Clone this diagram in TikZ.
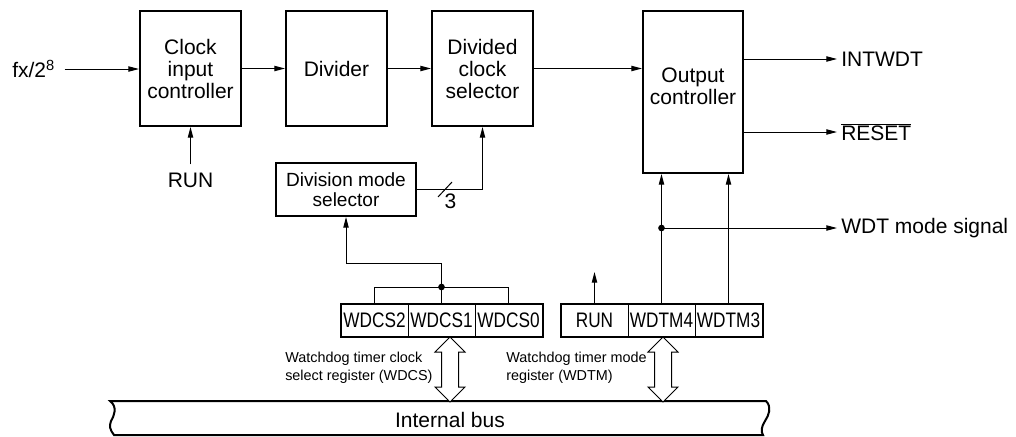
\documentclass[tikz,border=0pt]{standalone}
\usepackage{fontspec}
\setmainfont{Liberation Sans}
\newfontfamily\regfont[FakeStretch=0.82]{Liberation Sans}
\usetikzlibrary{arrows.meta,calc}
\newcommand\busarrow[1]{%
  \draw[line width=0.75pt,fill=white] (#1) -- ++(15,15) -- ++(-6.5,0) -- ++(0,35) -- ++(6.5,0)
    -- ++(-15,15) -- ++(-15,-15) -- ++(6.5,0) -- ++(0,-35) -- ++(-6.5,0) -- cycle;}
\begin{document}
\begin{tikzpicture}[x=0.75pt,y=-0.75pt,
  mainfont/.style={font=\fontsize{15.75}{16.5}\selectfont},
  blk/.style={draw,line width=1.5pt,align=center,inner sep=0pt,mainfont},
  conn/.style={line width=0.75pt},
  arr/.style={conn,-{Triangle[length=8pt,width=4pt]}},
  lbl/.style={mainfont,inner sep=0pt},
  small/.style={font=\fontsize{10.8}{13.5}\selectfont,align=left,inner sep=0pt},
  cell/.style={draw,line width=0.75pt,minimum width=50.25pt,minimum height=24pt,inner sep=0pt,
    font=\regfont\fontsize{15.75}{16.5}\selectfont},
  dot/.style={circle,fill,inner sep=0pt,minimum size=5pt}
]
\useasboundingbox (0,0) rectangle (1016,436);

% blocks
\node[blk,minimum width=75.75pt,minimum height=86.25pt] (cic) at (190.5,68.5) {Clock\\input\\controller};
\node[blk,minimum width=75.75pt,minimum height=86.25pt] (div) at (336.5,68.5) {Divider};
\node[blk,minimum width=75.75pt,minimum height=86.25pt] (dcs) at (482.5,68.5) {Divided\\clock\\selector};
\node[blk,minimum width=75pt,minimum height=121.5pt] (oc) at (693,92) {};
\node[lbl,align=center] (octext) at (693,86) {Output\\controller};
\node[blk,minimum width=105pt,minimum height=39.75pt,font=\fontsize{14.3}{15}\selectfont] (dms) at (346,189.5) {Division mode\\selector};

% text labels
\node[lbl,anchor=west] (fx) at (12,69) {fx/2\textsuperscript{8}};
\node[lbl] (runin) at (190.5,180) {RUN};
\node[lbl,anchor=west] (intwdt) at (841,59) {INTWDT};
\node[lbl,anchor=west] (reset) at (841,132) {$\overline{\mbox{RESET}}$};
\node[lbl,anchor=west] (wdtout) at (841,228) {WDT mode signal};

% registers
\node[cell] (wdcs2) at (374.5,320) {WDCS2};
\node[cell] (wdcs1) at (441.5,320) {WDCS1};
\node[cell] (wdcs0) at (508.5,320) {WDCS0};
\draw[line width=1.5pt] (wdcs2.north west) rectangle (wdcs0.south east);
\node[cell] (runreg) at (594.5,320) {RUN};
\node[cell] (wdtm4) at (661.5,320) {WDTM4};
\node[cell] (wdtm3) at (728.5,320) {WDTM3};
\draw[line width=1.5pt] (runreg.north west) rectangle (wdtm3.south east);

\node[small,anchor=west] (wdcslbl) at (285,368) {Watchdog timer clock\\select register (WDCS)};
\node[small,anchor=west] (wdtmlbl) at (506,368) {Watchdog timer mode\\register (WDTM)};

% connectors
\draw[arr,shorten <=7pt] (fx.east) -- (fx.east -| cic.west);
\draw[arr] (cic.east) -- (div.west);
\draw[arr] (div.east) -- (dcs.west);
\draw[arr] (dcs.east) -- (dcs.east -| oc.west);
\draw[arr,shorten <=6pt] (runin.north) -- (cic.south);
\draw[arr,shorten >=3pt] (oc.east |- intwdt) -- (intwdt.west);
\draw[arr,shorten >=3pt] (oc.east |- reset) -- (reset.west);

\coordinate (slash) at (445,189.5);
\draw[arr] (dms.east) -- (dms.east -| dcs.south) -- (dcs.south);
\draw[conn] ($(slash)+(-7,7.5)$) -- ($(slash)+(7,-7.5)$);
\node[lbl] (three) at (450.5,201) {3};

\coordinate (bar) at (441.5,287);
\coordinate (bend) at (441.5,263);
\draw[conn] (wdcs2.north) -- (wdcs2.north |- bar) -- (wdcs0.north |- bar) -- (wdcs0.north);
\draw[arr] (wdcs1.north) -- (bend) -| (dms.south);
\node[dot] (bardot) at (bar) {};

\draw[arr] (wdtm4.north) -- (wdtm4.north |- oc.south);
\draw[arr] (wdtm3.north) -- (wdtm3.north |- oc.south);
\node[dot] (wdtdot) at (wdtm4.north |- wdtout) {};
\draw[arr,shorten >=3pt] (wdtdot.center) -- (wdtout.west);
\coordinate (runend) at (594.5,272);
\draw[arr] (runreg.north) -- (runend);

% internal bus
\draw[line width=1.5pt] (110,401) -- (766,401)
  .. controls (772,407) and (769,415) .. (765,421)
  .. controls (761,427) and (761,432) .. (763,435)
  -- (114,435)
  .. controls (110,430) and (109,426) .. (111,421)
  .. controls (114,416) and (118,407) .. (110,401) -- cycle;
\node[lbl] (bus) at (450,420) {Internal bus};

\coordinate (a1) at (450,337);
\coordinate (a2) at (663,337);
\busarrow{a1}
\busarrow{a2}
\end{tikzpicture}
\end{document}
